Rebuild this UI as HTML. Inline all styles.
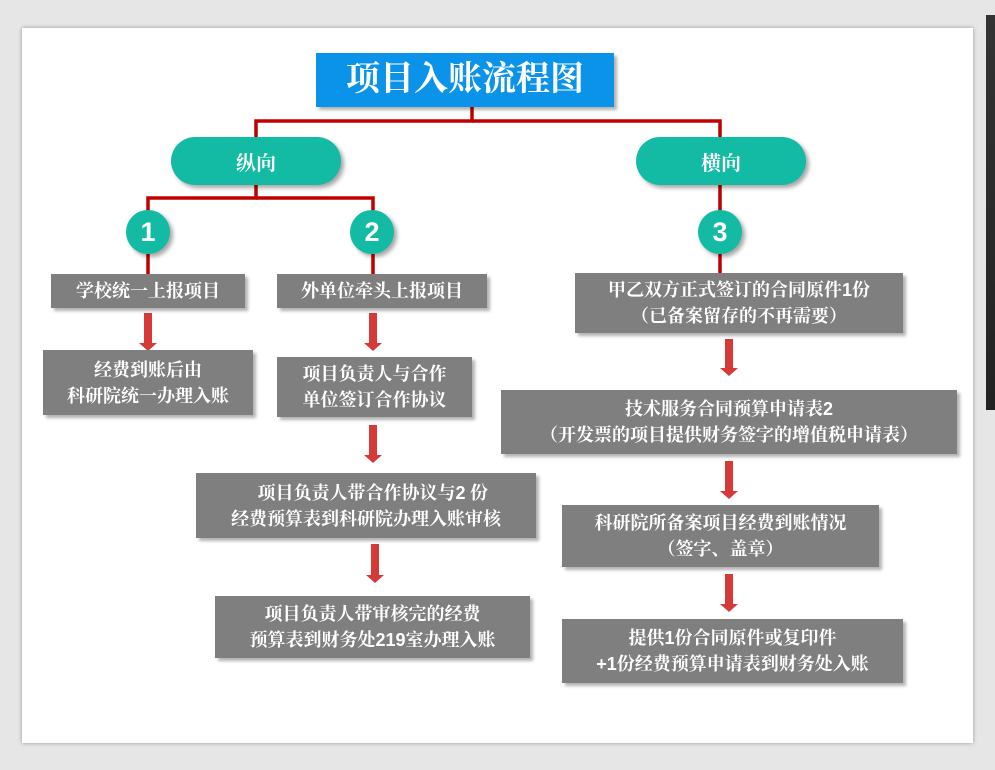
<!DOCTYPE html>
<html><head><meta charset="utf-8"><style>
body{margin:0;width:995px;height:770px;background:#e6e6e6;position:relative;overflow:hidden;font-family:"Liberation Serif","Noto Serif CJK SC",serif;}
.panel{position:absolute;left:22px;top:28px;width:951px;height:715px;background:#fff;box-shadow:0 0 4px rgba(0,0,0,.35);}
.dark{position:absolute;left:986px;top:15px;width:9px;height:395px;background:linear-gradient(#333,#222);}
.a{position:absolute;}
.n{font-family:"Liberation Sans",sans-serif;}
.box{position:absolute;background:#7f7f7f;color:#fff;font-weight:bold;font-size:18px;line-height:26px;text-align:center;display:flex;align-items:center;justify-content:center;flex-direction:column;box-shadow:3px 3px 3px rgba(0,0,0,.3);white-space:nowrap;}
.pill{position:absolute;background:#13bba5;color:#fff;font-size:20px;font-weight:bold;border-radius:25px;display:flex;align-items:center;justify-content:center;box-shadow:3px 3px 4px rgba(0,0,0,.35);}
.circ{position:absolute;width:44px;height:44px;border-radius:50%;background:#13bba5;color:#fff;font-family:"Liberation Sans",sans-serif;font-weight:bold;font-size:27px;display:flex;align-items:center;justify-content:center;box-shadow:3px 3px 4px rgba(0,0,0,.35);}
</style></head><body>
<div class="panel"></div>
<div class="dark"></div>
<svg class="a" style="left:0;top:0" width="995" height="770">
<g stroke="#c00000" stroke-width="3.5" fill="none">
<polyline points="472,107 472,121 256,121 256,137"/>
<polyline points="472,121 720,121 720,137"/>
<polyline points="256,184 256,198 148,198 148,212"/>
<polyline points="256,198 373,198 373,212"/>
<line x1="720" y1="184" x2="720" y2="212"/>
<line x1="148" y1="254" x2="148" y2="275"/>
<line x1="373" y1="254" x2="373" y2="275"/>
<line x1="720" y1="254" x2="720" y2="273"/>
</g>
<g fill="#d63a36">
<path d="M144,313h8v30h5l-9,8l-9,-8h5z"/>
<path d="M369,313h8v30h5l-9,8l-9,-8h5z"/>
<path d="M369,425h8v30h5l-9,8l-9,-8h5z"/>
<path d="M371,544h8v31h5l-9,8l-9,-8h5z"/>
<path d="M725,339h8v29h5l-9,8l-9,-8h5z"/>
<path d="M725,461h8v30h5l-9,8l-9,-8h5z"/>
<path d="M725,574h8v30h5l-9,8l-9,-8h5z"/>
</g>
</svg>
<div class="box" style="left:316px;top:53px;width:298px;height:54px;background:#0a93e8;font-size:34px;font-weight:bold;">项目入账流程图</div>
<div class="pill" style="left:171px;top:137px;width:170px;height:48px;">纵向</div>
<div class="pill" style="left:636px;top:137px;width:170px;height:48px;">横向</div>
<div class="circ" style="left:126px;top:210px;">1</div>
<div class="circ" style="left:350px;top:210px;">2</div>
<div class="circ" style="left:698px;top:210px;">3</div>
<div class="box" style="left:51px;top:274px;width:194px;height:34px;">学校统一上报项目</div>
<div class="box" style="left:277px;top:274px;width:210px;height:34px;">外单位牵头上报项目</div>
<div class="box" style="left:43px;top:350px;width:210px;height:65px;">经费到账后由<br>科研院统一办理入账</div>
<div class="box" style="left:277px;top:357px;width:195px;height:60px;">项目负责人与合作<br>单位签订合作协议</div>
<div class="box" style="left:196px;top:473px;width:340px;height:65px;"><span>&nbsp;&nbsp;&nbsp;项目负责人带合作协议与<span class="n">2</span> 份</span><span>经费预算表到科研院办理入账审核</span></div>
<div class="box" style="left:215px;top:596px;width:315px;height:62px;"><span>项目负责人带审核完的经费</span><span>预算表到财务处<span class="n">219</span>室办理入账</span></div>
<div class="box" style="left:575px;top:273px;width:328px;height:60px;"><span>甲乙双方正式签订的合同原件<span class="n">1</span>份</span><span>（已备案留存的不再需要）</span></div>
<div class="box" style="left:501px;top:390px;width:456px;height:64px;"><span>技术服务合同预算申请表<span class="n">2</span></span><span>（开发票的项目提供财务签字的增值税申请表）</span></div>
<div class="box" style="left:562px;top:505px;width:317px;height:62px;">科研院所备案项目经费到账情况<br>（签字、盖章）</div>
<div class="box" style="left:562px;top:619px;width:341px;height:64px;"><span>提供<span class="n">1</span>份合同原件或复印件</span><span><span class="n">+1</span>份经费预算申请表到财务处入账</span></div>
</body></html>
